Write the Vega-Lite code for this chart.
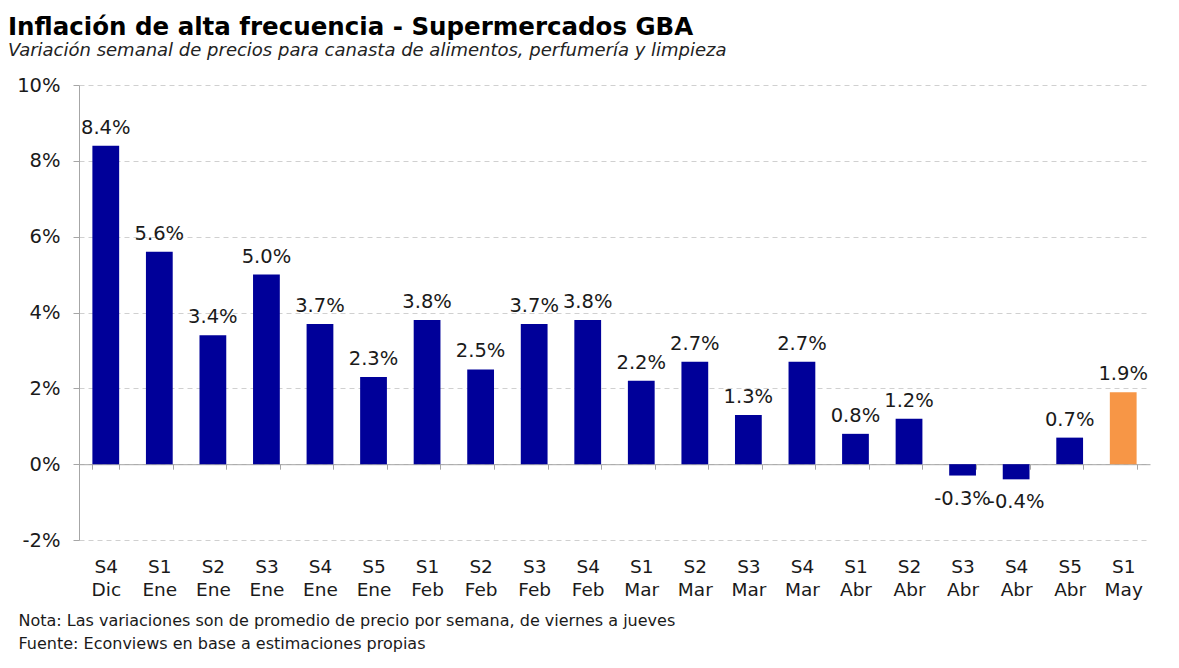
{
  "$schema": "https://vega.github.io/schema/vega-lite/v6.json",
  "width": 1071,
  "height": 455,
  "autosize": {"type": "none"},
  "padding": {"left": 79, "top": 85, "right": 29, "bottom": 128},
  "background": "white",
  "config": {"view": {"stroke": null}, "font": "DejaVu Sans"},
  "title": {
    "text": "Inflación de alta frecuencia - Supermercados GBA",
    "subtitle": "Variación semanal de precios para canasta de alimentos, perfumería y limpieza",
    "anchor": "start",
    "frame": "group",
    "dx": -71,
    "font": "DejaVu Sans",
    "fontSize": 24.5,
    "fontWeight": "bold",
    "color": "#000000",
    "subtitleFont": "DejaVu Sans",
    "subtitleFontStyle": "italic",
    "subtitleFontSize": 18,
    "subtitleColor": "#222222",
    "subtitlePadding": 2,
    "offset": 14
  },
  "data": {
    "values": [
      {"semana": "S4 Dic", "v": 0.084, "tipo": "obs"},
      {"semana": "S1 Ene", "v": 0.056, "tipo": "obs"},
      {"semana": "S2 Ene", "v": 0.034, "tipo": "obs"},
      {"semana": "S3 Ene", "v": 0.050, "tipo": "obs"},
      {"semana": "S4 Ene", "v": 0.037, "tipo": "obs"},
      {"semana": "S5 Ene", "v": 0.023, "tipo": "obs"},
      {"semana": "S1 Feb", "v": 0.038, "tipo": "obs"},
      {"semana": "S2 Feb", "v": 0.025, "tipo": "obs"},
      {"semana": "S3 Feb", "v": 0.037, "tipo": "obs"},
      {"semana": "S4 Feb", "v": 0.038, "tipo": "obs"},
      {"semana": "S1 Mar", "v": 0.022, "tipo": "obs"},
      {"semana": "S2 Mar", "v": 0.027, "tipo": "obs"},
      {"semana": "S3 Mar", "v": 0.013, "tipo": "obs"},
      {"semana": "S4 Mar", "v": 0.027, "tipo": "obs"},
      {"semana": "S1 Abr", "v": 0.008, "tipo": "obs"},
      {"semana": "S2 Abr", "v": 0.012, "tipo": "obs"},
      {"semana": "S3 Abr", "v": -0.003, "tipo": "obs"},
      {"semana": "S4 Abr", "v": -0.004, "tipo": "obs"},
      {"semana": "S5 Abr", "v": 0.007, "tipo": "obs"},
      {"semana": "S1 May", "v": 0.019, "tipo": "ult"}
    ]
  },
  "encoding": {
    "x": {
      "field": "semana",
      "type": "nominal",
      "sort": null,
      "scale": {"paddingInner": 0.5, "paddingOuter": 0.25},
      "axis": {
        "offset": -75.8,
        "domainColor": "#A6A6A6",
        "domainWidth": 1,
        "tickBand": "extent",
        "tickColor": "#A6A6A6",
        "tickSize": 5,
        "labelAngle": 0,
        "labelPadding": 88,
        "labelFontSize": 18.5,
        "labelColor": "#1a1a1a",
        "labelLineHeight": 23,
        "labelExpr": "isValid(datum.value) ? split(datum.value, ' ') : ''",
        "title": ["Nota: Las variaciones son de promedio de precio por semana, de viernes a jueves", "Fuente: Econviews en base a estimaciones propias"],
        "titleFontSize": 16,
        "titleFontWeight": "normal",
        "titleColor": "#1a1a1a",
        "titleAlign": "left",
        "titleAnchor": null,
        "titleBaseline": "top",
        "titleX": -61,
        "titleY": 148,
        "titleLineHeight": 23
      }
    },
    "y": {
      "field": "v",
      "type": "quantitative",
      "scale": {"domain": [-0.02, 0.10], "nice": false, "zero": false},
      "axis": {
        "values": [-0.02, 0, 0.02, 0.04, 0.06, 0.08, 0.10],
        "format": ".0%",
        "labelExpr": "replace(datum.label, '\u2212', '-')",
        "title": null,
        "domainColor": "#A6A6A6",
        "tickColor": "#A6A6A6",
        "tickSize": 6,
        "labelPadding": 13,
        "labelFontSize": 19.5,
        "labelColor": "#1a1a1a",
        "gridColor": "#D0D0D0",
        "gridDash": [5, 4],
        "gridWidth": 1
      }
    }
  },
  "layer": [
    {
      "mark": {"type": "bar"},
      "encoding": {
        "color": {
          "field": "tipo",
          "type": "nominal",
          "scale": {"domain": ["obs", "ult"], "range": ["#000099", "#F79646"]},
          "legend": null
        }
      }
    },
    {
      "transform": [{"filter": "datum.v >= 0"}],
      "mark": {"type": "text", "baseline": "bottom", "dy": -8, "fontSize": 19.5, "color": "#1a1a1a", "text": {"expr": "replace(format(datum.v, '.1%'), '\u2212', '-')"}},
      "encoding": {}
    },
    {
      "transform": [{"filter": "datum.v < 0"}],
      "mark": {"type": "text", "baseline": "top", "dy": 14, "fontSize": 19.5, "color": "#1a1a1a", "text": {"expr": "replace(format(datum.v, '.1%'), '\u2212', '-')"}},
      "encoding": {}
    }
  ]
}
